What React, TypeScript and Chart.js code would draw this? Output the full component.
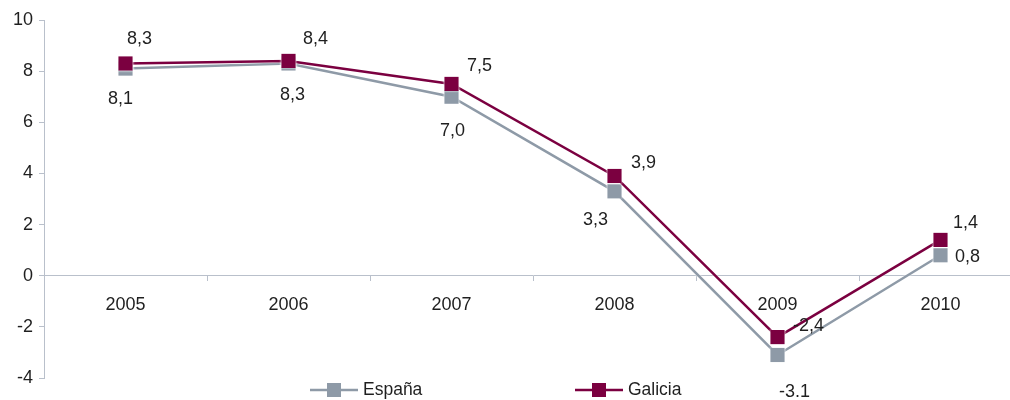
import React, { useEffect, useRef } from "react";
import { Chart, registerables } from "chart.js";

Chart.register(...registerables);

const categories = ["2005", "2006", "2007", "2008", "2009", "2010"];
const espana = [8.1, 8.3, 7.0, 3.3, -3.1, 0.8];
const galicia = [8.3, 8.4, 7.5, 3.9, -2.4, 1.4];
const espanaLabels = ["8,1", "8,3", "7,0", "3,3", "-3.1", "0,8"];
const galiciaLabels = ["8,3", "8,4", "7,5", "3,9", "-2,4", "1,4"];
const yTicks = [-4, -2, 0, 2, 4, 6, 8, 10];

const ESP_COLOR = "#8e9aa7";
const GAL_COLOR = "#7b0040";
const TEXT = "#1f1f1f";
const AXIS = "#b9c0cb";
const FONT = "'Liberation Sans', Arial, sans-serif";

// label offsets relative to each point (layout only)
const espOffsets = [[-5, 30], [4, 32], [1, 34], [-19, 29], [17, 37], [27, 2]];
const galOffsets = [[14, -24], [27, -22], [28, -18], [29, -13], [31, -11], [25, -17]];

const labelPlugin = {
  id: "valueLabels",
  beforeDatasetDraw(chart: any) {
    const ctx = chart.ctx;
    ctx.save();
    ctx.shadowColor = "rgba(255,255,255,1)";
    ctx.shadowBlur = 2;
  },
  afterDatasetDraw(chart: any) {
    chart.ctx.restore();
  },
  afterDraw(chart: any) {
    const ctx = chart.ctx;
    ctx.save();
    ctx.font = `18px ${FONT}`;
    ctx.fillStyle = TEXT;
    ctx.textAlign = "center";
    ctx.textBaseline = "middle";
    const sets = [
      { idx: 0, labels: espanaLabels, offs: espOffsets },
      { idx: 1, labels: galiciaLabels, offs: galOffsets },
    ];
    sets.forEach((s) => {
      const meta = chart.getDatasetMeta(s.idx);
      meta.data.forEach((pt: any, i: number) => {
        ctx.fillText(s.labels[i], pt.x + s.offs[i][0], pt.y + s.offs[i][1]);
      });
    });
    // legend
    const legendY = 390;
    const items = [
      { x: 310, color: ESP_COLOR, text: chart.data.datasets[0].label },
      { x: 575, color: GAL_COLOR, text: chart.data.datasets[1].label },
    ];
    ctx.font = `17.5px ${FONT}`;
    items.forEach((it) => {
      ctx.strokeStyle = it.color;
      ctx.lineWidth = 2.5;
      ctx.beginPath();
      ctx.moveTo(it.x, legendY);
      ctx.lineTo(it.x + 48, legendY);
      ctx.stroke();
      ctx.fillStyle = it.color;
      ctx.fillRect(it.x + 24 - 7, legendY - 7, 14, 14);
      ctx.fillStyle = TEXT;
      ctx.textAlign = "left";
      ctx.fillText(it.text, it.x + 53, legendY);
    });
    ctx.restore();
  },
};

export default function App() {
  const ref = useRef<HTMLCanvasElement | null>(null);
  useEffect(() => {
    if (!ref.current) return;
    const chart = new Chart(ref.current, {
      type: "line",
      data: {
        labels: categories,
        datasets: [
          {
            label: "España",
            data: espana,
            borderColor: ESP_COLOR,
            backgroundColor: ESP_COLOR,
            borderWidth: 2.5,
            pointStyle: "rect",
            pointRadius: 10,
            pointBorderWidth: 0,
            pointBackgroundColor: ESP_COLOR,
            tension: 0,
            order: 1,
          },
          {
            label: "Galicia",
            data: galicia,
            borderColor: GAL_COLOR,
            backgroundColor: GAL_COLOR,
            borderWidth: 2.5,
            pointStyle: "rect",
            pointRadius: 10,
            pointBorderWidth: 0,
            pointBackgroundColor: GAL_COLOR,
            tension: 0,
            order: 0,
          },
        ],
      },
      options: {
        responsive: false,
        animation: false,
        layout: { padding: { left: 0, top: 20, right: 8, bottom: 22 } },
        plugins: {
          legend: { display: false },
          tooltip: { enabled: false },
        },
        scales: {
          x: {
            type: "category",
            offset: true,
            position: { y: 0 },
            grid: {
              offset: true,
              drawOnChartArea: false,
              drawTicks: true,
              tickLength: 5,
              color: AXIS,
            },
            border: { color: AXIS, width: 1 },
            ticks: {
              color: TEXT,
              font: { family: FONT, size: 18 },
              padding: 14,
              maxRotation: 0,
            },
          },
          y: {
            min: -4,
            max: 10,
            afterBuildTicks(scale: any) {
              scale.ticks = yTicks.map((v) => ({ value: v }));
            },
            afterFit(scale: any) {
              scale.width = 44;
            },
            grid: {
              drawOnChartArea: false,
              drawTicks: true,
              tickLength: 5,
              color: AXIS,
            },
            border: { color: AXIS, width: 1 },
            ticks: {
              color: TEXT,
              font: { family: FONT, size: 18 },
              padding: 6,
              callback: (v: any) => String(v),
            },
          },
        },
      },
      plugins: [labelPlugin],
    });
    return () => chart.destroy();
  }, []);
  return (
    <div
      style={{
        position: "fixed",
        left: 0,
        top: 0,
        width: 1010,
        height: 400,
        overflow: "hidden",
        background: "#fff",
      }}
    >
      <canvas
        ref={ref}
        width={1032}
        height={400}
        style={{ display: "block", width: 1032, height: 400 }}
      />
    </div>
  );
}
